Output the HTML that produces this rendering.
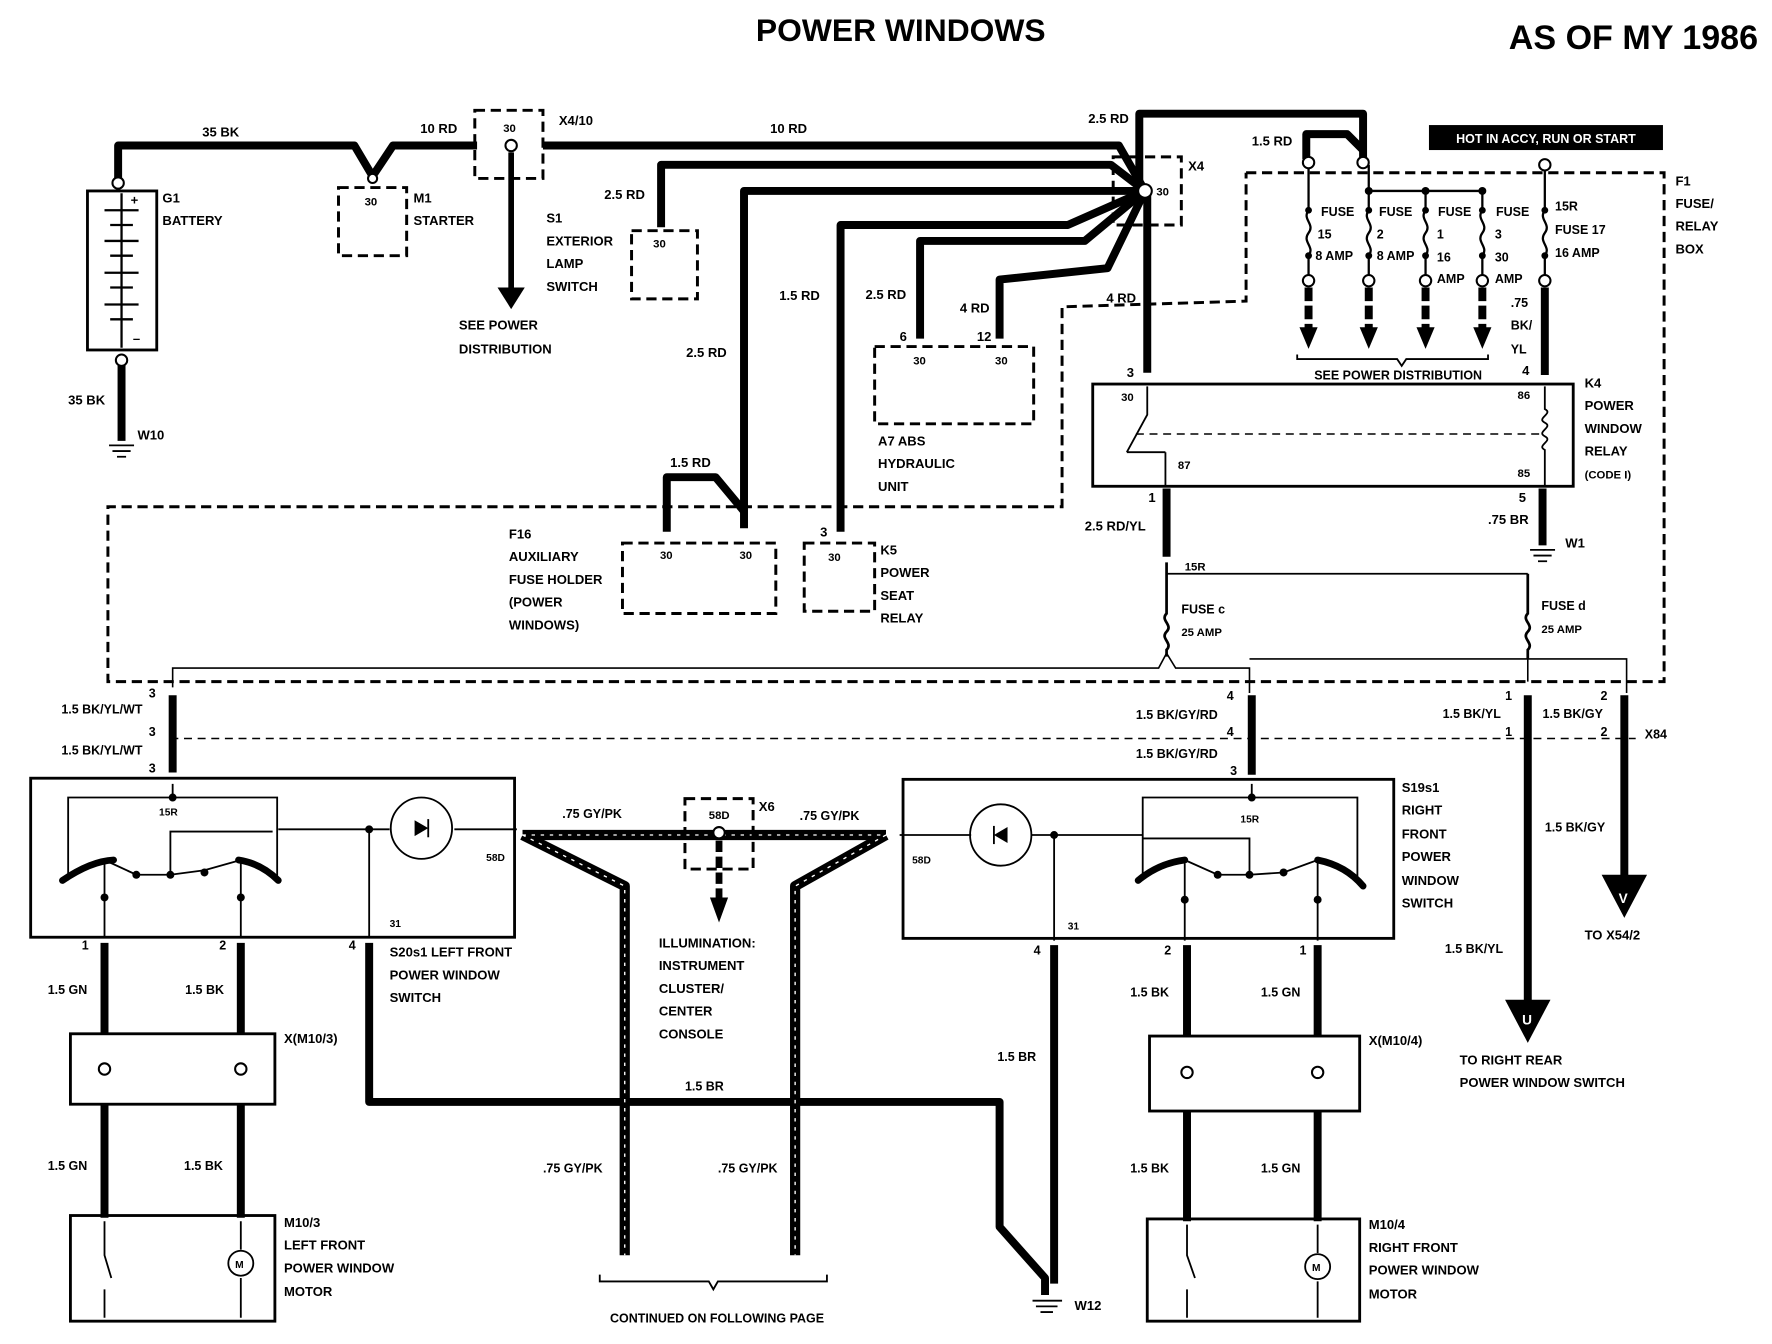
<!DOCTYPE html>
<html><head><meta charset="utf-8"><style>
html,body{margin:0;padding:0;background:#fff}
svg{display:block}
text{font-family:"Liberation Sans",sans-serif;font-weight:bold;fill:#000}
.s{font-size:11.5px}
.t{fill:none;stroke:#000;stroke-width:7;stroke-linejoin:round}
.n{fill:none;stroke:#000;stroke-width:1.6}
.d{fill:none;stroke:#000;stroke-width:2.6;stroke-dasharray:9 5}
.dt{fill:none;stroke:#000;stroke-width:1.3;stroke-dasharray:7 5}
.c{fill:#fff;stroke:#000;stroke-width:1.8}
</style></head><body>
<svg width="1772" height="1344" viewBox="0 0 1560 1183" xmlns="http://www.w3.org/2000/svg">
<rect width="1560" height="1183" fill="#fff"/>
<text x="793" y="36" font-size="28" text-anchor="middle">POWER WINDOWS</text>
<text x="1438" y="43" font-size="30" text-anchor="middle">AS OF MY 1986</text>

<!-- Battery -->
<rect x="77" y="168" width="61" height="140" class="n" style="stroke-width:2.5"/>
<g class="n" style="stroke-width:2">
<line x1="92" y1="185" x2="122" y2="185"/><line x1="97" y1="198" x2="117" y2="198"/>
<line x1="92" y1="212" x2="122" y2="212"/><line x1="97" y1="225" x2="117" y2="225"/>
<line x1="92" y1="240" x2="122" y2="240"/><line x1="97" y1="253" x2="117" y2="253"/>
<line x1="92" y1="268" x2="122" y2="268"/><line x1="97" y1="281" x2="117" y2="281"/>
<line x1="107" y1="170" x2="107" y2="306"/>
</g>
<text x="115" y="180" class="s">+</text><text x="117" y="302" class="s">–</text>
<text x="143" y="178" class="s">G1</text><text x="143" y="198" class="s">BATTERY</text>
<path class="t" d="M104 160 V128 H312 L328 155 L346 128 H420"/>
<circle cx="104" cy="161" r="5" class="c"/>
<path class="t" d="M107 316 V388"/><circle cx="107" cy="317" r="5" class="c"/>
<path class="n" d="M96 392 H118 M99 397 H115 M103 402 H111"/>
<text x="60" y="356" class="s">35 BK</text><text x="121" y="387" class="s">W10</text>
<text x="178" y="120" class="s">35 BK</text>

<!-- M1 Starter -->
<rect x="298" y="165" width="60" height="60" class="d"/>
<circle cx="328" cy="157" r="4" class="c"/>
<text x="321" y="181" font-size="10">30</text>
<text x="364" y="178" class="s">M1</text><text x="364" y="198" class="s">STARTER</text>
<text x="370" y="117" class="s">10 RD</text>

<!-- X4/10 -->
<rect x="418" y="97" width="60" height="60" class="d"/>
<text x="443" y="116" font-size="10">30</text>
<path class="t" d="M478 128 H985 L1008 168"/>
<circle cx="450" cy="128" r="5" class="c"/>
<path class="n" style="stroke-width:5" d="M450 134 V255"/><path d="M438 253 L450 272 L462 253 Z"/>
<text x="492" y="110" class="s">X4/10</text>
<text x="404" y="290" class="s">SEE POWER</text><text x="404" y="311" class="s">DISTRIBUTION</text>
<text x="678" y="117" class="s">10 RD</text>

<!-- X4 -->
<rect x="980" y="138" width="60" height="60" class="d"/>
<text x="1046" y="150" class="s">X4</text><text x="1018" y="172" font-size="10">30</text>
<path class="t" d="M1003 165 V100 H1200 V140"/>
<path class="t" d="M1150 140 V118 H1186 L1200 132"/>
<text x="958" y="108" class="s">2.5 RD</text><text x="1102" y="128" class="s">1.5 RD</text>
<path class="t" d="M1008 168 L978 145 H582 V200"/>
<path class="t" d="M1008 168 L975 168 H655 V465"/>
<path class="t" d="M1008 168 L940 198 H740 V468"/>
<path class="t" d="M1008 168 L955 212 H810 V298"/>
<path class="t" d="M1008 168 L975 236 L880 246 V298"/>
<path class="t" d="M1010 168 V328"/>
<circle cx="1008" cy="168" r="6" class="c"/>
<text x="532" y="175" class="s">2.5 RD</text>
<text x="604" y="314" class="s">2.5 RD</text>
<text x="686" y="264" class="s">1.5 RD</text>
<text x="762" y="263" class="s">2.5 RD</text>
<text x="845" y="275" class="s">4 RD</text>
<text x="974" y="266" class="s">4 RD</text>

<!-- S1 -->
<rect x="556" y="203" width="58" height="60" class="d"/>
<text x="575" y="218" font-size="10">30</text>
<text x="481" y="196" class="s">S1</text><text x="481" y="216" class="s">EXTERIOR</text>
<text x="481" y="236" class="s">LAMP</text><text x="481" y="256" class="s">SWITCH</text>

<!-- A7 -->
<rect x="770" y="305" width="140" height="68" class="d"/>
<text x="792" y="300" class="s">6</text><text x="860" y="300" class="s">12</text>
<text x="804" y="321" font-size="10">30</text><text x="876" y="321" font-size="10">30</text>
<text x="773" y="392" class="s">A7 ABS</text><text x="773" y="412" class="s">HYDRAULIC</text><text x="773" y="432" class="s">UNIT</text>

<!-- F16 -->
<path class="t" d="M587 468 V420 H630 L655 450"/>
<text x="590" y="411" class="s">1.5 RD</text>
<rect x="548" y="478" width="135" height="62" class="d"/>
<text x="581" y="492" font-size="10">30</text><text x="651" y="492" font-size="10">30</text>
<text x="448" y="474" class="s">F16</text><text x="448" y="494" class="s">AUXILIARY</text>
<text x="448" y="514" class="s">FUSE HOLDER</text><text x="448" y="534" class="s">(POWER</text><text x="448" y="554" class="s">WINDOWS)</text>

<!-- K5 -->
<rect x="708" y="478" width="62" height="60" class="d"/>
<text x="722" y="472" class="s">3</text><text x="729" y="494" font-size="10">30</text>
<text x="775" y="488" class="s">K5</text><text x="775" y="508" class="s">POWER</text>
<text x="775" y="528" class="s">SEAT</text><text x="775" y="548" class="s">RELAY</text>

<!-- big dashed F1 outline -->
<path class="d" d="M1097 152 H1465 V600 H95 V446 H935 V270 L1097 265 V152"/>
<text x="1475" y="163" class="s">F1</text><text x="1475" y="183" class="s">FUSE/</text>
<text x="1475" y="203" class="s">RELAY</text><text x="1475" y="223" class="s">BOX</text>

<!-- Fuses -->
<rect x="1258" y="110" width="206" height="22" fill="#000"/>
<text x="1361" y="126" font-size="11" font-weight="normal" style="fill:#fff" text-anchor="middle">HOT IN ACCY, RUN OR START</text>
<path class="n" style="stroke-width:2" d="M1205 168 H1305"/>
<g class="n" style="stroke-width:2">
<path d="M1152 145 V185 c-6 8 6 12 0 20 c-6 8 6 12 0 20 V245"/>
<path d="M1205 145 V185 c-6 8 6 12 0 20 c-6 8 6 12 0 20 V245"/>
<path d="M1255 168 V185 c-6 8 6 12 0 20 c-6 8 6 12 0 20 V245"/>
<path d="M1305 168 V185 c-6 8 6 12 0 20 c-6 8 6 12 0 20 V245"/>
<path d="M1360 145 V185 c-6 8 6 12 0 20 c-6 8 6 12 0 20 V245"/>
</g>
<g fill="#000">
<circle cx="1205" cy="168" r="3.5"/><circle cx="1255" cy="168" r="3.5"/><circle cx="1305" cy="168" r="3.5"/>
<circle cx="1152" cy="185" r="3"/><circle cx="1205" cy="185" r="3"/><circle cx="1255" cy="185" r="3"/><circle cx="1305" cy="185" r="3"/><circle cx="1360" cy="185" r="3"/>
<circle cx="1152" cy="225" r="3"/><circle cx="1205" cy="225" r="3"/><circle cx="1255" cy="225" r="3"/><circle cx="1305" cy="225" r="3"/><circle cx="1360" cy="225" r="3"/>
</g>
<g class="c"><circle cx="1152" cy="143" r="5"/><circle cx="1200" cy="143" r="5"/><circle cx="1360" cy="145" r="5"/>
<circle cx="1152" cy="247" r="5"/><circle cx="1205" cy="247" r="5"/><circle cx="1255" cy="247" r="5"/><circle cx="1305" cy="247" r="5"/><circle cx="1360" cy="247" r="5"/></g>
<g fill="none" stroke="#000" style="stroke-width:7;stroke-dasharray:12 4">
<path d="M1152 253 V290"/><path d="M1205 253 V290"/><path d="M1255 253 V290"/><path d="M1305 253 V290"/></g>
<g fill="#000"><path d="M1144 288 L1152 307 L1160 288Z"/><path d="M1197 288 L1205 307 L1213 288Z"/><path d="M1247 288 L1255 307 L1263 288Z"/><path d="M1297 288 L1305 307 L1313 288Z"/></g>
<path class="n" d="M1142 312 V316 H1230 L1234 322 L1238 316 H1310 V312"/>
<text x="1157" y="334" font-size="11">SEE POWER DISTRIBUTION</text>
<g font-size="11">
<text x="1163" y="190">FUSE</text><text x="1160" y="210">15</text><text x="1158" y="229">8 AMP</text>
<text x="1214" y="190">FUSE</text><text x="1212" y="210">2</text><text x="1212" y="229">8 AMP</text>
<text x="1266" y="190">FUSE</text><text x="1265" y="210">1</text><text x="1265" y="230">16</text><text x="1265" y="249">AMP</text>
<text x="1317" y="190">FUSE</text><text x="1316" y="210">3</text><text x="1316" y="230">30</text><text x="1316" y="249">AMP</text>
<text x="1369" y="185">15R</text><text x="1369" y="206">FUSE 17</text><text x="1369" y="226">16 AMP</text>
<text x="1330" y="270">.75</text><text x="1330" y="290">BK/</text><text x="1330" y="311">YL</text>
</g>
<path class="t" d="M1360 253 V330"/>

<!-- K4 -->
<rect x="962" y="338" width="423" height="90" class="n" style="stroke-width:2.5"/>
<text x="992" y="332" class="s">3</text><text x="1340" y="330" class="s">4</text>
<text x="987" y="353" font-size="10">30</text><text x="1336" y="351" font-size="10">86</text>
<text x="1336" y="420" font-size="10">85</text><text x="1037" y="413" font-size="10">87</text>
<path class="n" d="M1010 340 V365 L992 398 M1026 398 V428 M992 398 H1026"/>
<path class="dt" d="M1000 382 H1360"/>
<path class="n" d="M1360 340 V360 c8 4 -8 8 0 12 c8 4 -8 8 0 12 c8 4 -8 8 0 12 V428"/>
<text x="1395" y="341" class="s">K4</text><text x="1395" y="361" class="s">POWER</text>
<text x="1395" y="381" class="s">WINDOW</text><text x="1395" y="401" class="s">RELAY</text>
<text x="1395" y="421" font-size="10">(CODE I)</text>
<path class="t" d="M1027 430 V490"/>
<text x="1011" y="442" class="s">1</text><text x="955" y="467" class="s">2.5 RD/YL</text>
<path class="t" d="M1358 430 V480"/><path class="n" d="M1347 484 H1369 M1350 489 H1366 M1354 494 H1362"/>
<text x="1337" y="442" class="s">5</text><text x="1310" y="461" class="s">.75 BR</text><text x="1378" y="482" class="s">W1</text>
<path class="n" style="stroke-width:2.4" d="M1027 495 V540 c-6 6 6 10 0 16 c-6 6 6 10 0 16 V578 M1345 505 V520 H1345 V540 c-6 6 6 10 0 16 c-6 6 6 10 0 16 V580"/>
<path class="n" d="M1027 505 V505 H1345"/>
<text x="1043" y="502" font-size="10">15R</text>
<text x="1040" y="540" font-size="11">FUSE c</text><text x="1040" y="560" font-size="10">25 AMP</text>
<text x="1357" y="537" font-size="11">FUSE d</text><text x="1357" y="557" font-size="10">25 AMP</text>
<path class="n" style="stroke-width:1.4" d="M152 605 V588 H1020 L1027 575 L1035 588 H1100 V610 M1100 580 H1345 L1345 600 M1345 580 H1432 V610"/>

<!-- connectors row -->
<path class="dt" d="M150 650 H1440"/>
<path class="t" d="M152 612 V680"/><path class="t" d="M1102 612 V682"/>
<path class="t" d="M1345 612 V895"/><path class="t" d="M1430 612 V780"/>
<g font-size="11">
<text x="131" y="614">3</text><text x="54" y="628">1.5 BK/YL/WT</text><text x="131" y="648">3</text>
<text x="54" y="664">1.5 BK/YL/WT</text><text x="131" y="680">3</text>
<text x="1080" y="616">4</text><text x="1000" y="633">1.5 BK/GY/RD</text><text x="1080" y="648">4</text>
<text x="1000" y="667">1.5 BK/GY/RD</text><text x="1083" y="682">3</text>
<text x="1325" y="616">1</text><text x="1270" y="632">1.5 BK/YL</text><text x="1325" y="648">1</text>
<text x="1409" y="616">2</text><text x="1358" y="632">1.5 BK/GY</text><text x="1409" y="648">2</text>
<text x="1448" y="650">X84</text>
<text x="1360" y="732">1.5 BK/GY</text><text x="1272" y="839">1.5 BK/YL</text>
</g>
<path d="M1410 770 L1430 808 L1450 770Z"/><text x="1425" y="795" font-size="12" style="fill:#fff">V</text>
<text x="1395" y="827" class="s">TO X54/2</text>
<path d="M1325 880 L1345 918 L1365 880Z"/><text x="1340" y="902" font-size="12" style="fill:#fff">U</text>
<text x="1285" y="937" class="s">TO RIGHT REAR</text><text x="1285" y="957" class="s">POWER WINDOW SWITCH</text>

<!-- left switch -->
<rect x="27" y="685" width="426" height="140" class="n" style="stroke-width:2.5"/>
<path class="n" d="M152 690 V702 H60 V775 M152 702 H244 V775 M150 770 V732 H240"/>
<path fill="none" stroke="#000" style="stroke-width:6;stroke-linecap:round" d="M55 775 Q80 758 100 757 M245 775 Q230 760 210 757"/>
<path class="n" d="M92 757 L120 770 L150 770 L180 766 L212 757"/>
<g fill="#000"><circle cx="120" cy="770" r="3.5"/><circle cx="150" cy="770" r="3.5"/><circle cx="180" cy="768" r="3.5"/><circle cx="325" cy="730" r="3.5"/><circle cx="92" cy="790" r="3.5"/><circle cx="212" cy="790" r="3.5"/><circle cx="152" cy="702" r="3.5"/></g>
<path class="n" d="M92 760 V825 M212 760 V825 M325 730 V825 M245 730 H343 M400 730 H455"/>
<circle cx="371" cy="729" r="27" class="n"/>
<path d="M365 722 L365 736 L377 729Z"/><path class="n" d="M377 721 V737"/>
<text x="140" y="718" font-size="9">15R</text><text x="428" y="758" font-size="9">58D</text><text x="343" y="816" font-size="9">31</text>
<g font-size="11"><text x="72" y="836">1</text><text x="193" y="836">2</text><text x="307" y="836">4</text></g>
<text x="343" y="842" class="s">S20s1 LEFT FRONT</text><text x="343" y="862" class="s">POWER WINDOW</text><text x="343" y="882" class="s">SWITCH</text>
<path class="t" d="M92 830 V910 M212 830 V910 M92 972 V1072 M212 972 V1072"/>
<path class="t" d="M325 830 V970 H880 V1080 L920 1125 V1140"/>
<path class="n" d="M909 1145 H935 M912 1150 H931 M916 1155 H927"/>
<text x="946" y="1153" class="s">W12</text>
<g font-size="11"><text x="42" y="875">1.5 GN</text><text x="163" y="875">1.5 BK</text>
<text x="42" y="1030">1.5 GN</text><text x="162" y="1030">1.5 BK</text><text x="603" y="960">1.5 BR</text>
<text x="878" y="934">1.5 BR</text></g>
<rect x="62" y="910" width="180" height="62" class="n" style="stroke-width:2.5"/>
<circle cx="92" cy="941" r="5" class="c"/><circle cx="212" cy="941" r="5" class="c"/>
<text x="250" y="918" class="s">X(M10/3)</text>
<rect x="62" y="1070" width="180" height="93" class="n" style="stroke-width:2.5"/>
<path class="n" d="M92 1075 V1105 L98 1125 M92 1135 V1160 M212 1075 V1100 M212 1125 V1160"/>
<circle cx="212" cy="1112" r="11" class="n"/><text x="207" y="1116" font-size="9">M</text>
<text x="250" y="1080" class="s">M10/3</text><text x="250" y="1100" class="s">LEFT FRONT</text>
<text x="250" y="1120" class="s">POWER WINDOW</text><text x="250" y="1141" class="s">MOTOR</text>

<!-- X6 and GY/PK -->
<g class="t" style="stroke-width:9"><path d="M460 735 H780"/><path d="M460 735 L550 780 V1105"/><path d="M780 735 L700 780 V1105"/></g>
<g stroke="#fff" stroke-width="1.2" stroke-dasharray="3 5" fill="none"><path d="M460 735 H780"/><path d="M460 735 L550 780 V1105"/><path d="M780 735 L700 780 V1105"/></g>
<rect x="603" y="703" width="60" height="62" class="d" fill="#fff"/>
<circle cx="633" cy="733" r="5" class="c"/>
<path fill="none" stroke="#000" style="stroke-width:6;stroke-dasharray:10 4" d="M633 740 V790"/><path d="M625 790 L633 812 L641 790Z"/>
<text x="624" y="721" font-size="10">58D</text><text x="668" y="714" class="s">X6</text>
<text x="495" y="720" font-size="11">.75 GY/PK</text><text x="704" y="722" font-size="11">.75 GY/PK</text>
<g class="s"><text x="580" y="834">ILLUMINATION:</text><text x="580" y="854">INSTRUMENT</text><text x="580" y="874">CLUSTER/</text>
<text x="580" y="894">CENTER</text><text x="580" y="914">CONSOLE</text></g>
<text x="478" y="1032" font-size="11">.75 GY/PK</text><text x="632" y="1032" font-size="11">.75 GY/PK</text>
<path class="n" d="M528 1122 V1128 H624 L628 1135 L632 1128 H728 V1122"/>
<text x="537" y="1164" font-size="11">CONTINUED ON FOLLOWING PAGE</text>

<!-- right switch -->
<rect x="795" y="686" width="432" height="140" class="n" style="stroke-width:2.5"/>
<path class="n" d="M1102 690 V702 H1006 V775 M1102 702 H1195 V778 M1100 770 V738 H1006"/>
<path fill="none" stroke="#000" style="stroke-width:6;stroke-linecap:round" d="M1002 775 Q1020 760 1043 757 M1200 780 Q1185 762 1160 757"/>
<path class="n" d="M1043 757 L1072 770 L1100 770 L1130 768 L1160 757"/>
<g fill="#000"><circle cx="1072" cy="770" r="3.5"/><circle cx="1100" cy="770" r="3.5"/><circle cx="1130" cy="768" r="3.5"/><circle cx="928" cy="735" r="3.5"/><circle cx="1043" cy="792" r="3.5"/><circle cx="1160" cy="792" r="3.5"/><circle cx="1102" cy="702" r="3.5"/></g>
<path class="n" d="M1043 760 V828 M1160 760 V828 M928 735 V828 M908 735 H1006 M792 735 H855"/>
<circle cx="881" cy="735" r="27" class="n"/>
<path d="M887 728 L887 742 L875 735Z"/><path class="n" d="M875 727 V743"/>
<text x="1092" y="724" font-size="9">15R</text><text x="803" y="760" font-size="9">58D</text><text x="940" y="818" font-size="9">31</text>
<g font-size="11"><text x="910" y="840">4</text><text x="1025" y="840">2</text><text x="1144" y="840">1</text></g>
<g class="s"><text x="1234" y="697">S19s1</text><text x="1234" y="717">RIGHT</text><text x="1234" y="738">FRONT</text>
<text x="1234" y="758">POWER</text><text x="1234" y="779">WINDOW</text><text x="1234" y="799">SWITCH</text></g>
<path class="t" d="M928 832 V1130"/>
<path class="t" d="M1045 832 V912 M1160 832 V912 M1045 978 V1075 M1160 978 V1075"/>
<g font-size="11"><text x="995" y="877">1.5 BK</text><text x="1110" y="877">1.5 GN</text>
<text x="995" y="1032">1.5 BK</text><text x="1110" y="1032">1.5 GN</text></g>
<rect x="1012" y="912" width="185" height="66" class="n" style="stroke-width:2.5"/>
<circle cx="1045" cy="944" r="5" class="c"/><circle cx="1160" cy="944" r="5" class="c"/>
<text x="1205" y="920" class="s">X(M10/4)</text>
<rect x="1010" y="1073" width="187" height="90" class="n" style="stroke-width:2.5"/>
<path class="n" d="M1045 1078 V1105 L1052 1125 M1045 1135 V1160 M1160 1078 V1103 M1160 1128 V1160"/>
<circle cx="1160" cy="1115" r="11" class="n"/><text x="1155" y="1119" font-size="9">M</text>
<g class="s"><text x="1205" y="1082">M10/4</text><text x="1205" y="1102">RIGHT FRONT</text>
<text x="1205" y="1122">POWER WINDOW</text><text x="1205" y="1143">MOTOR</text></g>
</svg>
</body></html>
